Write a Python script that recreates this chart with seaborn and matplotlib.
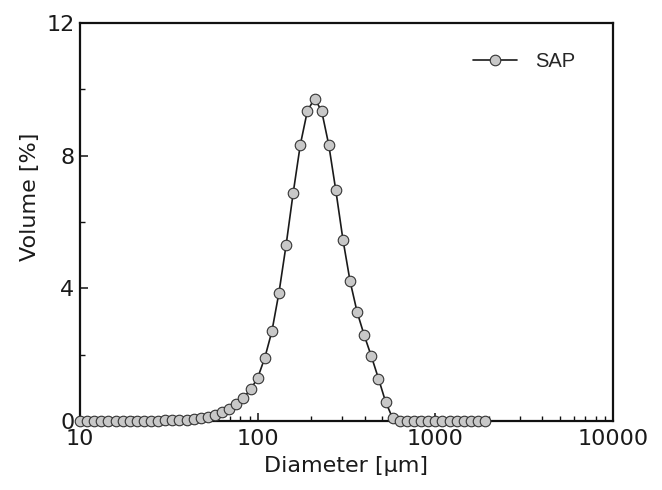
import matplotlib
matplotlib.use("Agg")
import matplotlib.pyplot as plt
import matplotlib.ticker as mticker
import numpy as np
import pandas as pd
import seaborn as sns

# Particle diameter bins [µm]
diameter = [10.00, 10.96, 12.02, 13.18, 14.45, 15.85, 17.38, 19.05, 20.89, 22.91,
            25.12, 27.54, 30.20, 33.11, 36.31, 39.81, 43.65, 47.86, 52.48, 57.54,
            63.10, 69.18, 75.86, 83.18, 91.20, 100.0, 109.6, 120.2, 131.8, 144.5,
            158.5, 173.8, 190.5, 208.9, 229.1, 251.2, 275.4, 302.0, 331.1, 363.1,
            398.1, 436.5, 478.6, 524.8, 575.4, 631.0, 691.8, 758.6, 831.8, 912.0,
            1000, 1096, 1202, 1318, 1445, 1585, 1738, 1905]
# Volume fraction [%]
volume = [0.00, 0.00, 0.00, 0.00, 0.00, 0.00, 0.00, 0.00, 0.00, 0.00,
          0.01, 0.01, 0.02, 0.02, 0.03, 0.04, 0.05, 0.08, 0.12, 0.18,
          0.26, 0.37, 0.52, 0.70, 0.95, 1.30, 1.90, 2.70, 3.87, 5.30,
          6.88, 8.33, 9.35, 9.72, 9.35, 8.33, 6.95, 5.47, 4.22, 3.28,
          2.58, 1.95, 1.28, 0.58, 0.08, 0.00, 0.00, 0.00, 0.00, 0.00,
          0.00, 0.00, 0.00, 0.00, 0.00, 0.00, 0.00, 0.00]
series_name = "SAP"
x_ticks = [10, 100, 1000, 10000]
x_tick_labels = ["10", "100", "1000", "10000"]
y_ticks = [0, 4, 8, 12]

df = pd.DataFrame({"Diameter": diameter, "Volume": volume, "Sample": series_name})

sns.set_style("ticks")
plt.rcParams["font.family"] = ["DejaVu Sans"]

fig = plt.figure(figsize=(6.62, 4.90), dpi=100)
ax = fig.add_axes([80 / 662, 1 - 421 / 490, 533 / 662, 398 / 490])

sns.lineplot(data=df, x="Diameter", y="Volume", hue="Sample",
             palette=["#1a1a1a"], marker="o", markersize=7.6,
             markerfacecolor="#c8c8c8", markeredgecolor="#333333",
             markeredgewidth=0.8, linewidth=1.2, ax=ax, clip_on=False,
             zorder=5)

ax.set_xscale("log")
ax.set_xlim(10, 10000)
ax.set_ylim(0, 12)
ax.set_xticks(x_ticks)
ax.set_xticklabels(x_tick_labels)
ax.xaxis.set_minor_locator(mticker.LogLocator(base=10, subs=np.arange(2, 10)))
ax.xaxis.set_minor_formatter(mticker.NullFormatter())
ax.set_yticks(y_ticks)
ax.yaxis.set_minor_locator(mticker.MultipleLocator(2))

for s in ax.spines.values():
    s.set_visible(True)
    s.set_linewidth(1.6)
    s.set_color("#111111")

ax.tick_params(axis="both", which="major", direction="in", length=6, width=1.1,
               labelsize=16, color="#111111", labelcolor="#1a1a1a")
ax.tick_params(axis="both", which="minor", direction="in", length=3.5, width=1.0,
               color="#111111")
ax.tick_params(axis="x", which="major", pad=6)
ax.tick_params(axis="y", which="major", pad=4)

ax.set_xlabel("Diameter [µm]", fontsize=16, color="#1a1a1a", labelpad=5)
ax.set_ylabel("Volume [%]", fontsize=16, color="#1a1a1a")
ax.yaxis.set_label_coords(-0.075, 0.563)

handles, labels = ax.get_legend_handles_labels()
ax.legend(handles, [series_name], loc="upper left",
          bbox_to_anchor=((473 - 80) / 533, (421 - 52) / 398),
          frameon=False, borderaxespad=0, borderpad=0,
          handlelength=2.2, handletextpad=0.9,
          prop={"family": "Liberation Sans", "size": 14.5})

fig.savefig("out.png", dpi=100)
